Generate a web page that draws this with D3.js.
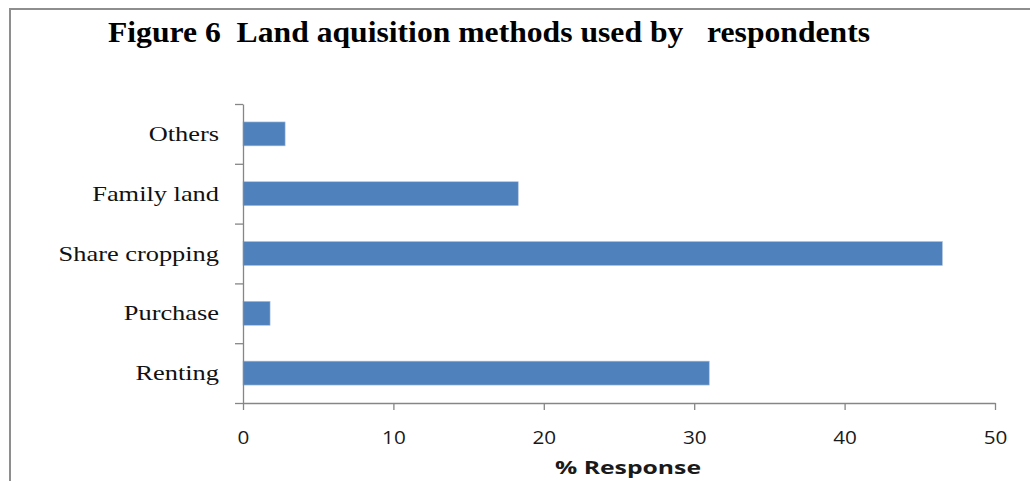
<!DOCTYPE html>
<html>
<head>
<meta charset="utf-8">
<script src="https://cdn.jsdelivr.net/npm/d3@7"></script>
<style>
  html, body { margin: 0; padding: 0; background: #fff; }
  svg { display: block; }
</style>
</head>
<body>
<svg id="chart" width="1030" height="481"></svg>
<script>
// Land acquisition methods (bottom-to-top order as plotted)
const categories = ["Renting", "Purchase", "Share cropping", "Family land", "Others"];
const responsePct = [31.0, 1.8, 46.5, 18.3, 2.8];
const xTicks = [0, 10, 20, 30, 40, 50];
const titleText = "Figure 6  Land aquisition methods used by   respondents";
const xAxisTitle = "% Response";

const svg = d3.select("#chart");
const W = 1030, H = 481;
const plot = { left: 243, right: 995, top: 104, bottom: 403 };

svg.append("rect").attr("width", W).attr("height", H).attr("fill", "#fff");

// frame around the figure
svg.append("path")
  .attr("d", `M10,${H} L10,9 L${W},9`)
  .attr("fill", "none")
  .attr("stroke", "#8e8e8e")
  .attr("stroke-width", 2);

// title
svg.append("text")
  .attr("x", 108).attr("y", 42)
  .attr("font-family", "'Liberation Serif', 'Times New Roman', serif")
  .attr("font-weight", "bold")
  .attr("font-size", 29)
  .attr("textLength", 762)
  .attr("lengthAdjust", "spacingAndGlyphs")
  .style("white-space", "pre")
  .attr("fill", "#000")
  .text(titleText);

const x = d3.scaleLinear().domain([0, 50]).range([plot.left, plot.right]);
const y = d3.scaleBand().domain(categories)
  .range([plot.bottom, plot.top])
  .paddingInner(0.6).paddingOuter(0.3);
// category boundaries for the axis tick marks
const yEdges = d3.scaleLinear().domain([0, categories.length]).range([plot.bottom, plot.top]);

const axisColor = "#868686";

// bars
svg.append("g").selectAll("rect")
  .data(categories.map((c, i) => ({ c, v: responsePct[i] })))
  .join("rect")
  .attr("x", x(0))
  .attr("y", d => y(d.c))
  .attr("width", d => x(d.v) - x(0))
  .attr("height", y.bandwidth())
  .attr("fill", "#4f81bd")
  .attr("stroke", "#a9c0de")
  .attr("stroke-width", 0.6);

// y axis: line + boundary ticks
const yAxis = svg.append("g")
  .attr("transform", `translate(${plot.left},0)`)
  .call(d3.axisLeft(yEdges).tickValues(d3.range(categories.length + 1)).tickSize(8).tickSizeOuter(0).tickFormat(""));
yAxis.select(".domain").attr("stroke", axisColor).attr("stroke-width", 1.3);
yAxis.selectAll(".tick line").attr("stroke", axisColor).attr("stroke-width", 1.3);

// category labels
svg.append("g").selectAll("text")
  .data(categories)
  .join("text")
  .attr("transform", d => `translate(219,${y(d) + y.bandwidth() / 2 + 7}) scale(1.2,1)`)
  .attr("text-anchor", "end")
  .attr("font-family", "'Liberation Serif', 'Times New Roman', serif")
  .attr("font-size", 22)
  .attr("fill", "#111")
  .text(d => d);

// x axis
const xAxis = svg.append("g")
  .attr("transform", `translate(0,${plot.bottom})`)
  .call(d3.axisBottom(x).tickValues(xTicks).tickSize(7).tickSizeOuter(0));
xAxis.select(".domain").attr("stroke", axisColor).attr("stroke-width", 1.3);
xAxis.selectAll(".tick line").attr("stroke", axisColor).attr("stroke-width", 1.3);
xAxis.selectAll(".tick text")
  .attr("y", 41).attr("dy", 0)
  .attr("transform", "scale(1.15,1)")
  .attr("font-family", "'Open Sans', 'Liberation Sans', sans-serif")
  .attr("font-size", 18)
  .attr("fill", "#1a1a1a");

// x axis title
svg.append("text")
  .attr("x", 555).attr("y", 474)
  .attr("font-family", "'Open Sans', 'Liberation Sans', sans-serif")
  .attr("font-weight", "bold")
  .attr("font-size", 18)
  .attr("textLength", 146)
  .attr("lengthAdjust", "spacingAndGlyphs")
  .attr("fill", "#1a1a1a")
  .text(xAxisTitle);
</script>
</body>
</html>
